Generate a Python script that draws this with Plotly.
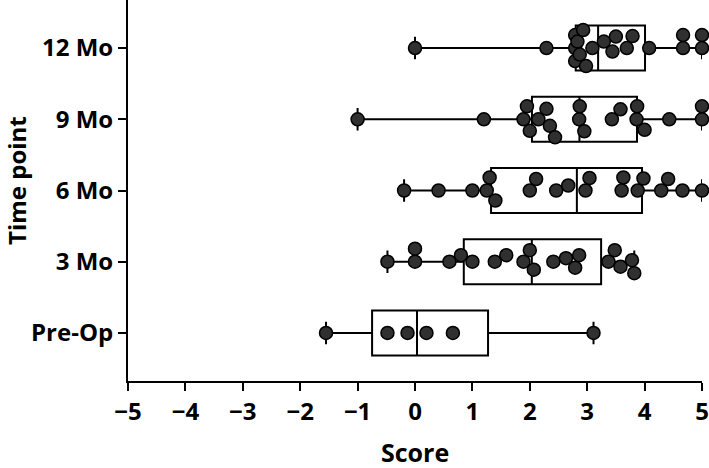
import numpy as np
import plotly.graph_objects as go

# ── Data (scores) ───────────────────────────────────────────────────────────
CATEGORIES = ["Pre-Op", "3 Mo", "6 Mo", "9 Mo", "12 Mo"]

PRE_OP = [-1.55, -0.48, -0.13, 0.2, 0.66, 3.11]
MO_3 = [-0.48, 0.0, 0.0, 0.6, 0.8, 1.0, 1.39, 1.59, 1.89, 2.0, 2.07,
        2.41, 2.63, 2.79, 2.86, 3.37, 3.48, 3.58, 3.78, 3.82]
MO_6 = [-0.19, 0.41, 1.0, 1.25, 1.3, 1.4, 2.0, 2.11, 2.46, 2.67, 2.97,
        3.04, 3.6, 3.63, 3.88, 3.98, 4.29, 4.41, 4.66, 5.0]
MO_9 = [-1.0, 1.2, 1.89, 1.95, 2.0, 2.15, 2.29, 2.35, 2.44, 2.86, 2.87,
        2.95, 3.43, 3.58, 3.86, 3.87, 4.0, 4.43, 5.0, 5.0]
MO_12 = [0.0, 2.29, 2.79, 2.79, 2.79, 2.83, 2.87, 2.93, 2.98, 3.09, 3.29,
         3.44, 3.5, 3.69, 3.79, 4.08, 4.67, 4.67, 5.0, 5.0]

SERIES = [PRE_OP, MO_3, MO_6, MO_9, MO_12]
X_TICKS = list(range(-5, 6))

FONT = "Open Sans"
W, H = 709, 468
MARGIN = dict(l=128, r=7, t=0, b=87)
Y_RANGE = [-0.674, 4.674]
MARKER_PX = 13
SWARM_GAP = 13.0    # wanted centre distance between points (px)
SWARM_MAX = 18.0    # points never spread further than this from the row (px)


def swarm_offsets(values, px_x, px_y, d=SWARM_GAP, limit=SWARM_MAX):
    """Greedy beeswarm with a width cap: dense clusters overlap instead of growing."""
    values = np.asarray(values, dtype=float)
    offs = np.zeros(len(values))
    placed = []
    cands = sorted(np.arange(-limit, limit + 0.5, 0.5), key=lambda v: (abs(v), v < 0))
    for i in np.argsort(values, kind="stable"):
        x = values[i] * px_x
        best, best_gap = 0.0, -1.0
        for c in cands:
            gap = min((np.hypot(x - a, c - b) for a, b in placed), default=1e9)
            if gap >= d:
                best = c
                break
            if gap > best_gap + 1e-9:
                best, best_gap = c, gap
        placed.append((x, best))
        offs[i] = best / px_y
    return offs


px_x = (W - MARGIN["l"] - MARGIN["r"]) / 10.0
px_y = (H - MARGIN["t"] - MARGIN["b"]) / (Y_RANGE[1] - Y_RANGE[0])

fig = go.Figure()

for pos, vals in enumerate(SERIES):
    q1, med, q3 = np.percentile(vals, [25, 50, 75], method="weibull")
    fig.add_trace(go.Box(
        y=[pos], q1=[q1], median=[med], q3=[q3],
        lowerfence=[min(vals)], upperfence=[max(vals)],
        orientation="h", width=0.63, whiskerwidth=0.5,
        boxpoints=False, fillcolor="rgba(255,255,255,0)",
        line=dict(color="black", width=2), showlegend=False, hoverinfo="skip",
    ))

for pos, vals in enumerate(SERIES):
    offs = swarm_offsets(vals, px_x, px_y)
    fig.add_trace(go.Scatter(
        x=vals, y=pos + offs, mode="markers", cliponaxis=False,
        marker=dict(size=MARKER_PX, color="#303030", line=dict(color="black", width=1.5)),
        showlegend=False,
    ))

axis_style = dict(
    showline=True, linecolor="black", linewidth=2, mirror=False,
    ticks="outside", ticklen=8, tickwidth=2, tickcolor="black",
    showgrid=False, zeroline=False, automargin=False,
    tickfont=dict(family=FONT, size=24, color="black", weight=700),
)

fig.update_xaxes(range=[-5, 5], tickvals=X_TICKS, **axis_style)
fig.update_yaxes(range=Y_RANGE, tickvals=list(range(len(CATEGORIES))),
                 ticktext=CATEGORIES, **axis_style)

fig.add_annotation(text="Score", x=0.5, y=(381 - 452) / 381, xref="paper", yref="paper",
                   showarrow=False, xanchor="center", yanchor="middle",
                   font=dict(family=FONT, size=25, color="black", weight=700))
fig.add_annotation(text="Time point", x=(16 - 128) / 574, y=(381 - 181) / 381,
                   xref="paper", yref="paper", textangle=-90,
                   showarrow=False, xanchor="center", yanchor="middle",
                   font=dict(family=FONT, size=24, color="black", weight=700))

fig.update_layout(
    width=W, height=H, margin=MARGIN,
    plot_bgcolor="white", paper_bgcolor="white",
)

# drop the browser's default 8px body margin so the figure sits at the page corner
fig.write_html("out.html", config={"displayModeBar": False},
               post_script="document.body.style.margin='0';")
